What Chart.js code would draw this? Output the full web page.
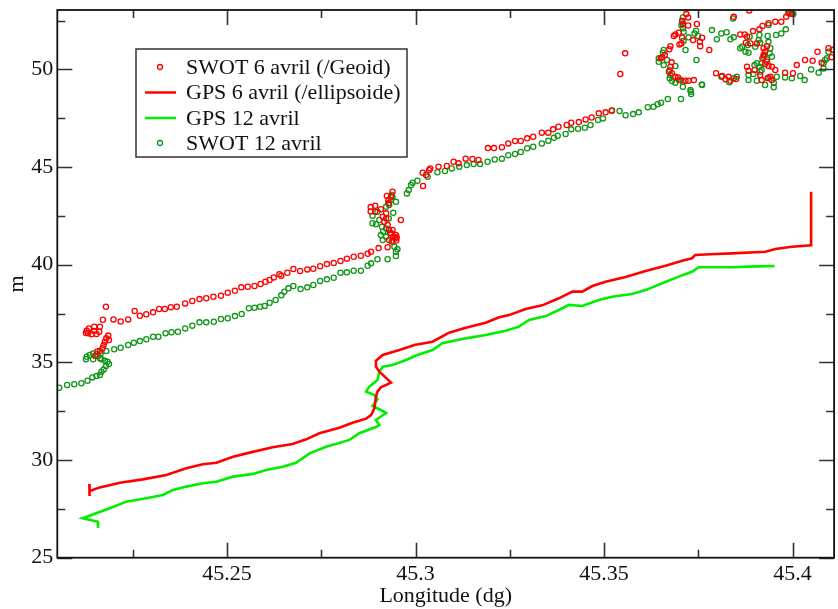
<!DOCTYPE html>
<html>
<head>
<meta charset="utf-8">
<script src="https://cdn.jsdelivr.net/npm/chart.js@4.4.1/dist/chart.umd.min.js"></script>
<style>
  html, body { margin: 0; padding: 0; background: #fff; }
  #wrap { width: 838px; height: 609px; }
</style>
</head>
<body>
<div id="wrap"><canvas id="c" width="838" height="609"></canvas></div>
<script>
// Axis ticks
const xTickValues = [45.25, 45.3, 45.35, 45.4];
const xTickLabels = ['45.25', '45.3', '45.35', '45.4'];
const xMinorTicks = [45.225, 45.275, 45.325, 45.375];
const yTickValues = [25, 30, 35, 40, 45, 50];
const yTickLabels = ['25', '30', '35', '40', '45', '50'];
const yMinorTicks = [27.5, 32.5, 37.5, 42.5, 47.5, 52.5];

// Series labels
const seriesNames = ['SWOT 6 avril (/Geoid)', 'GPS 6 avril (/ellipsoide)', 'GPS 12 avril', 'SWOT 12 avril'];

// SWOT 6 avril (heights above geoid)
const swot6Lon = [
  45.2128,45.2134,45.2126,45.2132,45.2141,45.2148,45.2148,45.2154,45.2163,45.2161,45.2171,45.2179,45.2199,45.2218,45.2238,
  45.2255,45.2269,45.2286,45.2304,45.2320,45.2335,45.2351,45.2367,45.2389,45.2408,45.2427,45.2445,45.2464,45.2484,45.2502,45.2521,
  45.2185,45.2180,45.2187,45.2176,45.2173,45.2170,45.2163,45.2156,45.2151,
  45.2538,45.2555,45.2573,45.2589,45.2602,45.2613,45.2624,45.2639,45.2644,45.2660,45.2676,45.2694,45.2713,45.2729,45.2747,
  45.2765,45.2783,45.2801,45.2818,45.2836,45.2855,45.2873,45.2882,45.2902,45.2926,45.2961,
  45.2881,45.2881,45.2893,45.2893,45.2908,45.2924,45.2928,45.2935,45.2939,45.2913,45.2917,45.2922,45.2926,45.2930,45.2935,
  45.2941,45.2946,45.2948,45.2939,45.2930,45.2939,45.2922,45.2929,45.2950,45.2949,
  45.3020,45.3019,45.3028,45.3036,45.3039,45.3061,45.3083,45.3101,45.3114,45.3133,45.3151,45.3167,45.3192,45.3208,45.3229,
  45.3246,45.3264,45.3279,45.3296,45.3312,45.3335,45.3352,45.3365,45.3379,45.3401,45.3413,45.3433,45.3451,45.3467,45.3486,
  45.3504,45.3521,45.3543,45.3556,
  45.3718,45.3723,45.3707,45.3709,45.3723,45.3746,45.3698,45.3685,45.3689,45.3707,45.3736,45.3754,45.3760,45.3705,45.3700,
  45.3755,45.3676,45.3673,45.3779,45.3661,45.3650,45.3654,45.3679,45.3676,45.3672,45.3680,45.3689,45.3696,45.3703,45.3716,
  45.3724,45.3738,45.3797,45.3813,45.3822,45.3830,45.3835,45.3850,45.3844,45.3885,45.3861,45.3873,45.3879,45.3895,45.3912,
  45.3920,45.3936,45.3954,45.3970,45.3983,45.3989,45.3998,45.3876,45.3888,45.3905,45.3923,45.3932,45.3927,45.3923,45.3920,
  45.3932,45.3927,45.3936,45.3945,45.3954,45.3879,45.3883,45.3899,45.3914,45.3918,45.3934,45.3941,45.3945,45.3980,45.4001,
  45.4011,45.4033,45.4053,45.4066,45.4077,45.4095,45.4108,45.4103
];
const swot6H = [
  36.62,36.74,36.50,36.49,36.44,36.83,36.60,36.45,36.83,36.57,37.18,37.85,37.20,37.09,37.20,
  37.63,37.39,37.46,37.56,37.73,37.73,37.82,37.85,38.02,38.14,38.24,38.28,38.36,38.41,38.57,38.67,
  36.37,36.23,36.14,36.06,35.89,35.72,35.58,35.56,35.33,
  38.84,38.87,38.91,39.01,39.13,39.22,39.35,39.51,39.44,39.59,39.78,39.68,39.76,39.79,39.92,
  40.03,40.09,40.19,40.31,40.41,40.46,40.56,40.66,40.85,40.89,42.29,
  42.95,42.72,43.02,42.71,42.84,43.52,43.31,43.48,43.74,42.46,42.20,42.37,42.03,41.78,41.61,
  41.43,41.35,41.52,41.23,41.26,41.78,42.63,43.14,41.40,41.24,
  44.03,44.71,44.59,44.85,44.93,45.02,45.05,45.27,45.19,45.43,45.41,45.36,45.97,45.97,46.01,
  46.21,46.33,46.33,46.47,46.55,46.76,46.76,46.93,47.06,47.15,47.27,47.30,47.44,47.54,47.75,
  47.80,47.90,49.76,50.82,
  52.83,52.66,52.49,52.32,52.25,52.32,51.88,51.71,51.79,51.62,51.50,51.41,51.62,51.33,51.28,
  51.19,51.19,51.03,50.99,50.73,50.57,50.62,50.36,50.14,49.88,49.80,49.62,49.59,49.45,49.42,
  49.42,49.45,49.80,49.66,49.49,49.62,49.42,49.51,52.69,53.02,51.79,51.79,51.67,51.96,52.05,
  52.22,52.36,52.44,52.44,52.69,52.87,52.83,51.36,51.33,51.33,51.08,51.19,50.90,50.73,50.57,
  50.39,50.27,50.17,50.14,49.97,50.14,49.93,49.97,49.71,49.45,49.54,49.62,49.45,49.83,49.80,
  50.22,50.48,50.44,50.90,50.34,51.08,51.00,50.62
];

// GPS 6 avril (heights above ellipsoid)
const gps6Lon = [
  45.2135,45.2135,45.2136,45.2163,45.2216,45.2277,45.2339,45.2392,45.2436,45.2472,45.2516,45.2560,45.2621,45.2674,45.2710,
  45.2745,45.2798,45.2833,45.2869,45.2882,45.2891,45.2895,45.2899,45.2908,45.2935,45.2926,45.2904,45.2895,45.2895,45.2913,
  45.2957,45.2997,45.3045,45.3089,45.3133,45.3186,45.3222,45.3248,45.3292,45.3336,45.3380,45.3416,45.3442,45.3469,45.3504,
  45.3557,45.3610,45.3663,45.3707,45.3733,45.3742,45.3795,45.3839,45.3928,45.3954,45.3998,45.4049,45.4049
];
const gps6H = [
  28.77,28.16,28.41,28.60,28.84,29.01,29.23,29.58,29.78,29.86,30.17,30.38,30.65,30.82,31.06,
  31.37,31.65,31.91,32.12,32.30,32.65,33.24,33.50,33.72,33.96,34.13,34.52,34.78,35.08,35.38,
  35.63,35.89,36.06,36.52,36.77,37.03,37.31,37.42,37.73,37.92,38.28,38.62,38.62,38.91,39.13,
  39.37,39.68,39.95,40.20,40.33,40.50,40.55,40.58,40.66,40.80,40.92,40.99,43.74
];

// GPS 12 avril
const gps12Lon = [
  45.2158,45.2158,45.2117,45.2189,45.2233,45.2286,45.2330,45.2357,45.2392,45.2436,45.2472,45.2516,45.2569,45.2604,45.2648,
  45.2683,45.2719,45.2763,45.2825,45.2851,45.2895,45.2904,45.2895,45.2922,45.2904,45.2886,45.2899,45.2891,45.2869,45.2877,
  45.2899,45.2904,45.2913,45.2939,45.2975,45.3001,45.3045,45.3071,45.3133,45.3186,45.3239,45.3274,45.3301,45.3345,45.3380,
  45.3407,45.3442,45.3486,45.3521,45.3574,45.3610,45.3654,45.3698,45.3733,45.3751,45.3795,45.3839,45.3883,45.3952
];
const gps12H = [
  26.52,26.84,27.02,27.53,27.87,28.04,28.21,28.47,28.64,28.81,28.89,29.15,29.29,29.49,29.66,
  29.86,30.34,30.68,31.03,31.37,31.69,31.79,32.05,32.41,32.60,32.77,33.11,33.33,33.50,33.75,
  34.10,34.52,34.78,34.87,35.12,35.35,35.63,35.98,36.23,36.40,36.62,36.83,37.17,37.37,37.68,
  37.94,37.89,38.19,38.36,38.50,38.70,39.05,39.39,39.64,39.87,39.87,39.87,39.90,39.93
];

// SWOT 12 avril
const swot12Lon = [
  45.2055,45.2076,45.2095,45.2114,45.2130,45.2143,45.2154,45.2163,45.2167,45.2173,45.2179,45.2187,45.2183,45.2176,45.2167,
  45.2163,45.2158,45.2154,45.2145,45.2136,45.2128,45.2126,45.2145,45.2165,45.2180,45.2201,45.2218,45.2238,45.2253,45.2269,
  45.2286,45.2304,45.2318,45.2337,45.2353,45.2370,45.2389,45.2408,45.2427,45.2445,45.2465,45.2484,45.2502,45.2521,45.2539,
  45.2558,45.2573,45.2588,45.2600,45.2613,45.2629,45.2644,45.2652,45.2663,45.2676,45.2695,45.2713,45.2729,45.2747,45.2765,
  45.2783,45.2801,45.2818,45.2836,45.2855,45.2873,45.2882,45.2899,45.2926,
  45.2886,45.2886,45.2895,45.2899,45.2904,45.2911,45.2914,45.2908,45.2913,45.2922,45.2922,45.2928,45.2930,45.2935,45.2937,
  45.2939,45.2941,45.2948,45.2937,45.2944,45.2948,45.2948,45.2952,45.2929,45.2922,45.2932,
  45.2977,45.2982,45.2988,45.2992,45.3005,45.3032,45.3058,45.3078,45.3096,45.3116,45.3136,45.3154,45.3171,45.3191,45.3210,
  45.3229,45.3246,45.3264,45.3279,45.3296,45.3312,45.3335,45.3352,45.3367,45.3377,45.3398,45.3413,45.3431,45.3449,45.3464,
  45.3484,45.3497,45.3520,45.3541,45.3557,45.3577,45.3592,45.3616,45.3631,45.3642,45.3651,45.3669,45.3704,45.3730,45.3731,
  45.3759,
  45.3709,45.3707,45.3705,45.3709,45.3711,45.3724,45.3740,45.3744,45.3749,45.3711,45.3716,45.3786,45.3799,45.3811,45.3825,
  45.3835,45.3844,45.3842,45.3745,45.3658,45.3656,45.3645,45.3645,45.3658,45.3667,45.3689,45.3674,45.3676,45.3674,45.3680,
  45.3689,45.3698,45.3709,45.3709,45.3729,45.3760,45.3811,45.3832,45.3844,45.3852,45.3861,45.3866,45.3875,45.3883,45.3881,
  45.3901,45.3910,45.3914,45.3936,45.3934,45.3956,45.3970,45.3982,45.3912,45.3936,45.3899,45.3905,45.3912,45.3918,45.3918,
  45.3914,45.3923,45.3926,45.3932,45.3941,45.3939,45.3945,45.3883,45.3896,45.3883,45.3905,45.3927,45.3936,45.3950,45.3950,
  45.3958,45.3980,45.3998,45.4020,45.4032,45.4049,45.4069,45.4082,45.4082,45.4086,45.4091,45.4095,45.4106,45.3989,45.3994,
  45.4002,45.3886
];
const swot12H = [
  33.70,33.84,33.88,33.93,34.06,34.23,34.30,34.35,34.52,34.64,34.81,34.92,35.03,35.08,35.16,
  35.21,35.33,35.41,35.46,35.38,35.29,35.16,35.16,35.46,35.58,35.67,35.75,35.89,36.01,36.09,
  36.18,36.31,36.31,36.49,36.54,36.57,36.74,36.88,37.05,37.05,37.08,37.22,37.26,37.37,37.48,
  37.77,37.80,37.85,37.89,38.05,38.19,38.43,38.62,38.79,38.91,38.75,38.84,38.96,39.17,39.25,
  39.33,39.59,39.61,39.69,39.69,39.95,40.07,40.28,40.28,
  42.51,42.12,42.07,42.71,42.29,41.94,41.69,41.52,41.26,41.43,42.97,43.14,43.06,43.31,43.57,
  43.45,42.66,43.22,41.18,40.92,40.66,40.44,40.79,42.37,41.86,41.61,
  43.65,43.82,44.08,44.20,44.30,44.50,44.73,44.80,44.93,45.02,45.10,45.15,45.15,45.27,45.39,
  45.43,45.60,45.67,45.77,45.96,46.04,46.21,46.35,46.50,46.60,46.69,46.93,46.96,47.01,47.15,
  47.41,47.49,47.88,47.87,47.65,47.71,47.80,48.06,48.09,48.22,48.29,48.48,48.48,48.85,48.74,
  49.23,
  52.66,52.44,52.27,52.10,51.93,51.64,51.84,51.98,51.71,51.47,50.99,52.01,51.54,51.84,51.90,
  51.54,51.64,52.61,50.48,50.99,50.85,50.57,50.39,50.22,50.48,50.17,49.97,49.71,49.54,49.40,
  49.32,49.45,49.37,49.11,48.94,49.20,49.62,49.34,49.54,49.62,51.08,51.16,50.90,50.85,51.25,
  51.16,51.50,51.36,51.41,51.71,51.76,51.84,52.05,51.76,52.27,50.22,50.31,50.14,50.31,49.97,
  49.88,50.65,50.73,50.51,51.08,50.82,50.65,49.71,49.76,49.45,49.42,49.20,49.59,49.32,49.08,
  49.62,49.59,49.54,49.66,49.45,50.00,49.83,50.05,50.31,50.48,50.57,50.90,50.99,53.01,52.87,
  52.83,51.67
];

const toPoints = (xs, ys) => xs.map((x, i) => ({ x, y: ys[i] }));

const RED = '#ff0000';
const LIME = '#00ee00';
const DKGREEN = '#11961a';
const FONT = 'Liberation Serif';

// Inward ticks on all four sides plus the plot frame
const frameTicks = {
  id: 'frameTicks',
  afterDatasetsDraw(chart) {
    const { ctx, chartArea: a, scales: { x, y } } = chart;
    ctx.save();
    ctx.strokeStyle = '#333';
    ctx.lineWidth = 1.6;
    ctx.beginPath();
    const vx = (vals, len) => vals.forEach(v => {
      const p = Math.round(x.getPixelForValue(v)) + 0.5;
      ctx.moveTo(p, a.bottom); ctx.lineTo(p, a.bottom - len);
      ctx.moveTo(p, a.top); ctx.lineTo(p, a.top + len);
    });
    const hy = (vals, len) => vals.forEach(v => {
      const p = Math.round(y.getPixelForValue(v)) + 0.5;
      ctx.moveTo(a.left, p); ctx.lineTo(a.left + len, p);
      ctx.moveTo(a.right, p); ctx.lineTo(a.right - len, p);
    });
    vx(xTickValues, 15); vx(xMinorTicks, 8);
    hy(yTickValues, 15); hy(yMinorTicks, 8);
    ctx.stroke();
    ctx.strokeStyle = '#111';
    ctx.lineWidth = 1.8;
    ctx.strokeRect(a.left, a.top, a.right - a.left, a.bottom - a.top);
    ctx.restore();
  }
};

// Boxed legend inside the plot
const boxLegend = {
  id: 'boxLegend',
  afterDraw(chart) {
    const { ctx } = chart;
    const bx = 136, by = 49, bw = 271, bh = 108;
    const rowY = [67, 92.5, 118, 143];
    ctx.save();
    ctx.fillStyle = '#fff';
    ctx.fillRect(bx, by, bw, bh);
    ctx.strokeStyle = '#333';
    ctx.lineWidth = 1.5;
    ctx.strokeRect(bx, by, bw, bh);
    ctx.font = `22px "${FONT}"`;
    ctx.textBaseline = 'middle';
    ctx.textAlign = 'left';
    chart.data.datasets.forEach((ds, i) => {
      const cy = rowY[i];
      if (ds.showLine) {
        ctx.strokeStyle = ds.borderColor;
        ctx.lineWidth = 2.5;
        ctx.beginPath();
        ctx.moveTo(145, cy); ctx.lineTo(176, cy);
        ctx.stroke();
      } else {
        ctx.strokeStyle = ds.pointBorderColor;
        ctx.lineWidth = 1.3;
        ctx.beginPath();
        ctx.arc(160, cy, 2.5, 0, Math.PI * 2);
        ctx.stroke();
      }
      ctx.fillStyle = '#111';
      ctx.fillText(ds.label, 186, cy + 1);
    });
    ctx.restore();
  }
};

const pointStyleOpts = color => ({
  showLine: false,
  pointRadius: 2.6,
  pointBorderWidth: 1.3,
  pointBorderColor: color,
  pointBackgroundColor: 'rgba(0,0,0,0)',
  pointHoverRadius: 2.6,
  borderColor: color
});

new Chart(document.getElementById('c'), {
  type: 'scatter',
  data: {
    datasets: [
      { label: seriesNames[0], data: toPoints(swot6Lon, swot6H), ...pointStyleOpts(RED) },
      { label: seriesNames[1], data: toPoints(gps6Lon, gps6H), showLine: true, borderColor: RED, borderWidth: 2.6, pointRadius: 0, tension: 0 },
      { label: seriesNames[2], data: toPoints(gps12Lon, gps12H), showLine: true, borderColor: LIME, borderWidth: 2.6, pointRadius: 0, tension: 0 },
      { label: seriesNames[3], data: toPoints(swot12Lon, swot12H), ...pointStyleOpts(DKGREEN) }
    ]
  },
  options: {
    responsive: false,
    animation: false,
    devicePixelRatio: 1,
    layout: { padding: { top: 10, right: 1, left: 0, bottom: 0 } },
    plugins: { legend: { display: false }, tooltip: { enabled: false } },
    scales: {
      x: {
        type: 'linear',
        min: 45.205,
        max: 45.411,
        grid: { display: false, drawTicks: false },
        border: { display: false },
        afterFit(s) { s.height = 51.3; s.paddingLeft = 0; s.paddingRight = 0; },
        afterBuildTicks(s) { s.ticks = xTickValues.map(v => ({ value: v })); },
        ticks: {
          padding: 3,
          color: '#111',
          font: { family: FONT, size: 22 },
          maxRotation: 0,
          autoSkip: false,
          callback: v => xTickLabels[xTickValues.indexOf(v)]
        },
        title: {
          display: true,
          text: 'Longitude (dg)',
          color: '#111',
          font: { family: FONT, size: 22, lineHeight: 1.2 },
          padding: { top: 0, bottom: 0 }
        }
      },
      y: {
        type: 'linear',
        min: 25,
        max: 53.04,
        grid: { display: false, drawTicks: false },
        border: { display: false },
        afterFit(s) { s.width = 57.3; s.paddingTop = 0; s.paddingBottom = 0; },
        afterBuildTicks(s) { s.ticks = yTickValues.map(v => ({ value: v })); },
        ticks: {
          padding: 4,
          color: '#111',
          font: { family: FONT, size: 22 },
          autoSkip: false,
          callback: v => yTickLabels[yTickValues.indexOf(v)]
        },
        title: {
          display: true,
          text: 'm',
          color: '#111',
          font: { family: FONT, size: 22, lineHeight: 1.2 },
          padding: { top: 4, bottom: 0 }
        }
      }
    }
  },
  plugins: [frameTicks, boxLegend]
});
</script>
</body>
</html>
